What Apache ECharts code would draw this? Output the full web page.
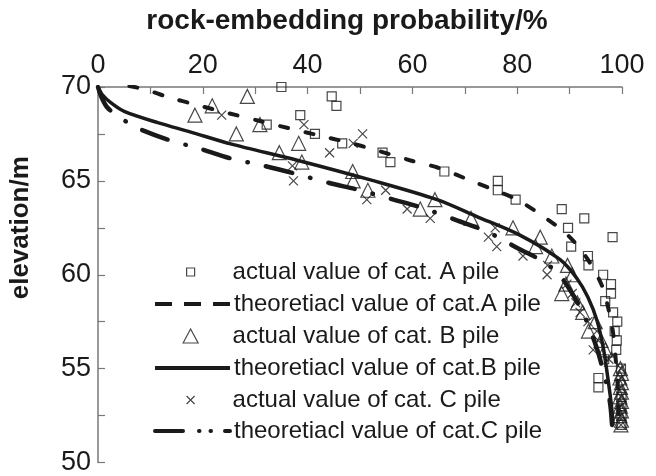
<!DOCTYPE html>
<html>
<head>
<meta charset="utf-8">
<script src="https://cdn.jsdelivr.net/npm/echarts@6/dist/echarts.min.js"></script>
<style>
html, body { margin: 0; padding: 0; background: #fff; }
#main { width: 656px; height: 476px; }
</style>
</head>
<body>
<div id="main"></div>
<script>
// [probability %, elevation m]
var actualA = [
	[35.0, 70], [44.6, 69.5], [45.5, 69], [38.6, 68.5], [32.2, 68], [41.4, 67.5],
	[46.6, 67], [54.3, 66.5], [55.8, 66], [66.1, 65.5], [76.3, 65], [76.3, 64.5],
	[79.7, 64], [88.5, 63.5], [92.8, 63], [89.7, 62.5], [98.2, 62], [90.3, 61.5],
	[93.5, 61], [93.6, 60.5], [96.4, 60], [97.9, 59.5], [97.9, 59], [96.8, 58.6],
	[98.3, 58], [99.1, 57.5], [98.6, 57], [99.0, 56.5], [98.9, 56], [96.6, 55.5],
	[99.8, 55], [95.5, 54.5], [95.5, 54], [99.9, 53.5], [99.9, 53], [99.9, 52.5], [99.9, 52]
];
var theoryA = [
	[6, 70.05], [9.1, 69.86], [13.5, 69.45], [18.8, 69.05], [25, 68.6], [30.7, 68.2],
	[36.5, 67.8], [42, 67.43], [48, 67.03], [52.3, 66.7], [59.5, 66.1], [64.9, 65.7],
	[70.4, 65.1], [76, 64.47], [80, 64], [85, 63.1], [89.7, 62.1], [93.5, 60.8],
	[96.2, 59.4], [97.4, 58.2], [98.3, 56.9], [98.8, 55.5], [99.2, 54], [99.4, 52]
];
var actualB = [
	[28.5, 69.5], [21.8, 69], [18.5, 68.5], [30.9, 68], [26.4, 67.5], [38.3, 67],
	[34.6, 66.5], [38.9, 66], [48.6, 65.5], [48.7, 65], [51.5, 64.5], [64.3, 64],
	[61.5, 63.5], [71.2, 63], [79.2, 62.5], [84.4, 62], [83.5, 61.5], [86.6, 61],
	[89.6, 60.5], [90.5, 60], [89.3, 59.5], [88.5, 59], [91.5, 58.5], [92.5, 58],
	[94.9, 57.5], [93.6, 57], [96.0, 56.5], [96.8, 56], [98.0, 55.5],
	[99.7, 55], [99.9, 54.75], [99.6, 54.5], [99.9, 54.25], [99.7, 54], [99.9, 53.75],
	[99.6, 53.5], [99.9, 53.25], [99.7, 53], [99.9, 52.75], [99.6, 52.5], [99.9, 52.25], [99.8, 52]
];
var theoryB = [
	[0, 70], [0.8, 69.6], [2.5, 69.15], [5, 68.7], [11.4, 68.1], [17.7, 67.6],
	[25.3, 66.97], [38, 66.1], [52, 65.05], [64.7, 64.0], [72.3, 63.1], [80.6, 62.1],
	[88.2, 60.8], [91.4, 59.8], [93.5, 58.8], [95.3, 57.5], [96.5, 56], [97.3, 54.5],
	[98, 53], [98.3, 52]
];
var actualC = [
	[23.6, 68.5], [39.3, 68], [50.5, 67.5], [48.7, 67], [44.2, 66.5], [37.1, 65.8],
	[37.3, 65], [54.9, 64.5], [51.3, 64], [59.0, 63.5], [63.4, 63], [75.8, 62.5],
	[74.5, 62], [76.1, 61.5], [81.1, 61], [85.8, 60.5], [85.7, 60], [89.5, 59.5],
	[90.5, 59], [91.2, 58.5], [92.0, 58], [93.5, 57.5], [95.2, 57], [95.5, 56.5],
	[94.5, 56], [97.5, 55.5], [99.8, 55], [99.8, 54.5], [99.8, 54], [99.8, 53.5],
	[99.8, 53], [99.8, 52.5], [99.8, 52]
];
var theoryC = [
	[0, 70], [0.6, 69.5], [1.8, 68.9], [4.6, 68.3], [7.6, 67.8], [13.3, 67.2],
	[19.6, 66.7], [25.3, 66.2], [31.7, 65.8], [37.4, 65.4], [44, 64.9], [50, 64.5],
	[56.4, 64.0], [61.5, 63.6], [68.5, 62.9], [74.2, 62.3], [80.2, 61.4], [85, 60.7],
	[88, 60], [90.5, 59], [92.5, 58], [94, 57], [95.3, 56], [96.3, 55], [97.2, 54],
	[97.8, 53], [98.1, 52]
];
var names = [
	'actual value of cat. A pile',
	'theoretiacl value of cat.A pile',
	'actual value of cat. B pile',
	'theoretiacl value of cat.B pile',
	'actual value of cat. C pile',
	'theoretiacl value of cat.C pile'
];

var font = 'Liberation Sans, Arial, sans-serif';
var ink = '#1a1a1a';
var crossPath = 'path://M0,0L10,10M10,0L0,10';
var hollow = { color: 'rgba(0,0,0,0)', borderColor: ink, borderWidth: 1.2 };

// legend icons: the leading moves stretch the box to 75 px so the mark keeps its size
var iconSquare = 'path://M0,0M75,8M33,0L41,0L41,8L33,8Z';
var iconTriangle = 'path://M0,0M75,14M29.5,14L37,0L44.5,14Z';
var iconCross = 'path://M0,0M75,8M33,0L41,8M41,0L33,8';

// one legend per row so every icon can have its own size
var legendSize = 24;
var rowMid = [272, 304, 336, 368, 400, 431];
var iconH = [8, 14, 14, 14, 8, 14];
var legends = [];
for (var i = 0; i < names.length; i++) {
	legends.push({
		left: 153,
		top: rowMid[i] - legendSize / 2,
		padding: 0,
		itemWidth: 75,
		itemHeight: iconH[i],
		itemGap: 0,
		selectedMode: false,
		textStyle: { fontSize: legendSize, color: ink, fontFamily: font, padding: [0, 0, 0, -1] },
		itemStyle: { borderWidth: 1.2 },
		lineStyle: { width: 4 },
		data: [names[i]]
	});
}
legends[0].data = [{ name: names[0], icon: iconSquare }];
legends[1].data = [{ name: names[1], itemStyle: { color: 'rgba(0,0,0,0)', borderWidth: 0 }, lineStyle: { type: [17, 12], cap: 'butt' } }];
legends[2].data = [{ name: names[2], icon: iconTriangle }];
legends[3].data = [{ name: names[3], itemStyle: { color: 'rgba(0,0,0,0)', borderWidth: 0 } }];
legends[4].data = [{ name: names[4], icon: iconCross }];
legends[5].data = [{ name: names[5], itemStyle: { color: 'rgba(0,0,0,0)', borderWidth: 0 }, lineStyle: { type: [28, 16, 0.5, 11, 0.5, 14], cap: 'round' } }];

var chart = echarts.init(document.getElementById('main'));
var option = {
	animation: false,
	backgroundColor: '#fff',
	legend: legends,
	grid: { left: 97, right: 34, top: 87, bottom: 13, containLabel: false },
	xAxis: {
		type: 'value',
		position: 'top',
		min: 0,
		max: 100,
		interval: 20,
		name: 'rock-embedding probability/%',
		nameLocation: 'middle',
		nameGap: 52,
		nameTextStyle: { fontSize: 28, fontWeight: 'bold', color: ink, fontFamily: font, padding: [0, 26, 0, 0] },
		axisLine: { lineStyle: { color: '#777', width: 1.5 } },
		axisTick: { inside: true, length: 7, lineStyle: { color: '#777', width: 1.2 } },
		minorTick: { show: true, splitNumber: 2, length: 7, lineStyle: { color: '#777', width: 1.2 } },
		axisLabel: { fontSize: 27, color: ink, fontFamily: font, margin: 8 },
		splitLine: { show: false }
	},
	yAxis: {
		type: 'value',
		min: 50,
		max: 70,
		interval: 5,
		name: 'elevation/m',
		nameLocation: 'middle',
		nameGap: 64,
		nameTextStyle: { fontSize: 26, fontWeight: 'bold', color: ink, fontFamily: font, padding: [0, 0, 0, 94] },
		axisLine: { lineStyle: { color: '#777', width: 1.5 } },
		axisTick: { inside: true, length: 7, lineStyle: { color: '#777', width: 1.2 } },
		minorTick: { show: true, splitNumber: 2, length: 7, lineStyle: { color: '#777', width: 1.2 } },
		axisLabel: { fontSize: 27, color: ink, fontFamily: font, margin: 7 },
		splitLine: { show: false }
	},
	series: [
		{
			name: names[0], type: 'scatter', data: actualA,
			symbol: 'rect', symbolSize: 9, itemStyle: hollow
		},
		{
			name: names[1], type: 'line', data: theoryA, smooth: 0.3,
			symbol: 'none', itemStyle: { color: ink },
			lineStyle: { color: ink, width: 4, type: [8, 18], cap: 'round' }
		},
		{
			name: names[2], type: 'scatter', data: actualB,
			symbol: 'triangle', symbolSize: 14, itemStyle: hollow
		},
		{
			name: names[3], type: 'line', data: theoryB, smooth: 0.3,
			symbol: 'none', itemStyle: { color: ink },
			lineStyle: { color: ink, width: 3.5 }
		},
		{
			name: names[4], type: 'scatter', data: actualC,
			symbol: crossPath, symbolSize: 9, itemStyle: hollow
		},
		{
			name: names[5], type: 'line', data: theoryC, smooth: 0.3,
			symbol: 'none', itemStyle: { color: ink },
			lineStyle: { color: ink, width: 4.5, type: [27, 18.5, 0.5, 18.5], cap: 'round' }
		}
	]
};
chart.setOption(option);
</script>
</body>
</html>
